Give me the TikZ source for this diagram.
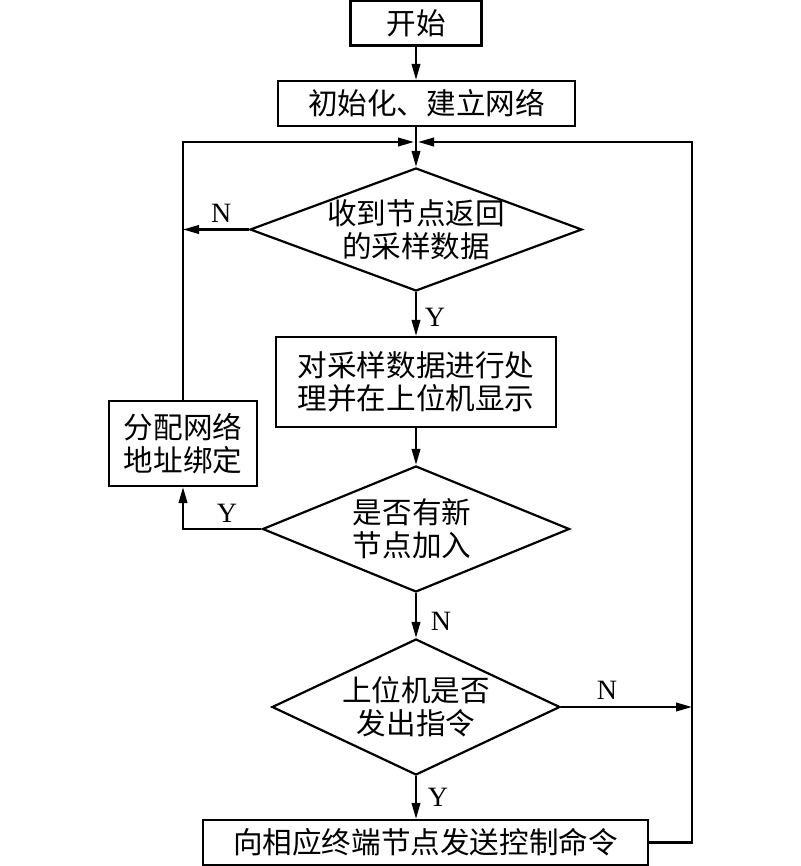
\documentclass[tikz,border=0pt]{standalone}
\usepackage{fontspec}
\setmainfont{Liberation Serif}
\newfontfamily\cjk{Noto Sans CJK SC}
\usetikzlibrary{shapes.geometric,arrows.meta}

\tikzset{
  box/.style={draw, rectangle, inner sep=0pt, align=center, font=\cjk\fontsize{29.6}{33}\selectfont},
  dia/.style={draw, diamond, inner sep=0pt},
  diatext/.style={align=center, inner sep=0pt, font=\cjk\fontsize{29.6}{33}\selectfont},
  yn/.style={font=\fontsize{28}{28}\selectfont, inner sep=0pt},
}

\begin{document}
\begin{tikzpicture}[x=1pt, y=-1pt, line width=2.2pt, >={Triangle[length=16pt,width=8.5pt]}]
        \useasboundingbox (0,0) rectangle (800,866);
        \fill[white] (0,0) rectangle (800,866);

        \node[box, minimum width=131pt, minimum height=45pt] (start) at (416,23) {开始};
        \node[box, minimum width=297pt, minimum height=45pt] (init) at (426.5,103.5) {初始化、建立网络};
        \node[dia, minimum width=332pt, minimum height=123pt,
              label={[diatext]center:收到节点返回\\的采样数据}] (d1) at (416,229.5) {};
        \node[box, minimum width=280pt, minimum height=90pt] (proc) at (416,382) {对采样数据进行处\\理并在上位机显示};
        \node[box, minimum width=148pt, minimum height=85pt] (side) at (183,443.5) {分配网络\\地址绑定};
        \node[dia, minimum width=307pt, minimum height=126pt,
              label={[diatext, xshift=-4pt]center:是否有新\\节点加入}] (d2) at (416,529) {};
        \node[dia, minimum width=288pt, minimum height=136pt,
              label={[diatext]center:上位机是否\\发出指令}] (d3) at (416,707) {};
        \node[box, minimum width=445pt, minimum height=45pt] (cmd) at (425.5,842.5) {向相应终端节点发送控制命令};

        \coordinate (joinL) at (414,142);
        \coordinate (joinR) at (418,142);
        \coordinate (loopR) at (692,142);

        % main column
        \draw[->] (start.south) -- (start.south |- init.north);
        \draw[->] (init.south -| d1.north) -- (d1.north);
        \draw[->] (d1.south) -- node[yn, pos=.57, xshift=19pt]{Y} (proc.north);
        \draw[->] (proc.south) -- (d2.north);
        \draw[->] (d2.south) -- node[yn, pos=.64, xshift=25pt]{N} (d3.north);
        \draw[->] (d3.south) -- node[yn, pos=.49, xshift=22pt]{Y} (d3.south |- cmd.north);

        % left loop
        \draw[->] (d1.west) -- node[yn, pos=.42, yshift=16pt]{N} (d1.west -| side.north);
        \draw[->] (d2.west) -| node[yn, pos=.22, yshift=16pt]{Y} (side.south);
        \draw[->] (side.north) |- (joinL);

        % right loop
        \draw[->] (d3.east) -- node[yn, pos=.35, yshift=17pt]{N} (d3.east -| loopR);
        \draw[->] (cmd.east) -| (loopR) -- (joinR);
    \end{tikzpicture}
\end{document}
